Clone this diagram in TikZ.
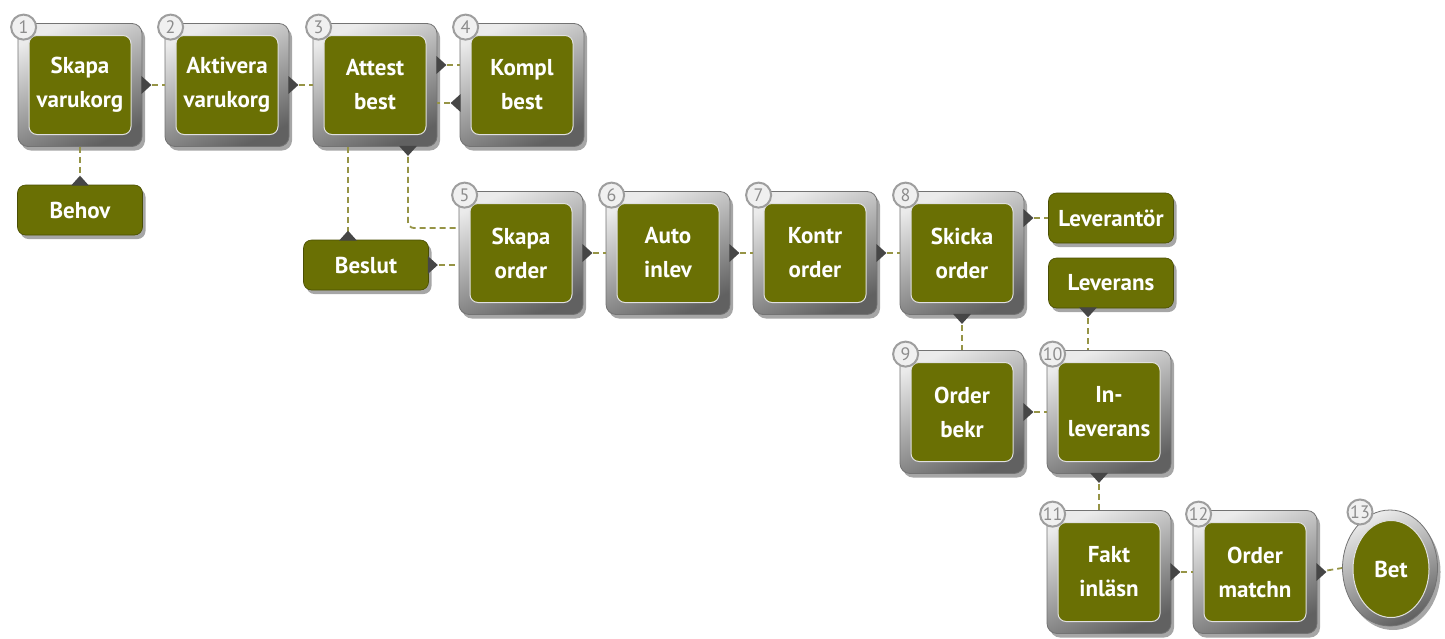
\documentclass[tikz,border=0pt]{standalone}
\usepackage{fontspec}
\setmainfont{PT Sans}
\usetikzlibrary{calc,shadows,shapes.geometric}
\definecolor{olv}{RGB}{106,112,4}
\definecolor{dashc}{RGB}{150,148,70}
\definecolor{ptrc}{RGB}{70,70,70}
\tikzset{
  frame/.style={rounded corners=10pt, minimum width=124pt, minimum height=123pt, inner sep=0pt,
    top color=black!8, bottom color=black!62, shading angle=25, draw=black!55, line width=0.8pt,
    drop shadow={shadow xshift=3pt, shadow yshift=-4pt, opacity=0.35, fill=black}},
  inbox/.style={rounded corners=8pt, minimum width=102pt, minimum height=99pt, inner sep=0pt,
    fill=olv, draw=black!12, line width=1pt, text=white, align=center,
    font=\bfseries\fontsize{23}{34}\selectfont},
  sbox/.style={rounded corners=8pt, minimum width=125pt, minimum height=50pt, inner sep=0pt,
    fill=olv, draw=olv!70!black, line width=0.6pt, text=white, align=center,
    font=\bfseries\fontsize{23}{28}\selectfont,
    drop shadow={shadow xshift=3pt, shadow yshift=-4pt, opacity=0.35, fill=black}},
  numc/.style={circle, minimum size=25pt, inner sep=0pt, fill=black!6, draw=black!38, line width=2pt,
    text=black!45, font=\fontsize{18}{18}\selectfont},
  conn/.style={draw=dashc, line width=1.8pt, dash pattern=on 6pt off 4pt},
  ptr/.style={fill=ptrc},
}
\newcommand\ptrR[1]{\fill[ptr] ($(#1)+(-1,-9)$) -- ($(#1)+(9,0)$) -- ($(#1)+(-1,9)$) -- cycle;}
\newcommand\ptrL[1]{\fill[ptr] ($(#1)+(1,-9)$) -- ($(#1)+(-9,0)$) -- ($(#1)+(1,9)$) -- cycle;}
\newcommand\ptrD[1]{\fill[ptr] ($(#1)+(-9,-1)$) -- ($(#1)+(0,9)$) -- ($(#1)+(9,-1)$) -- cycle;}
\newcommand\ptrU[1]{\fill[ptr] ($(#1)+(-9,1)$) -- ($(#1)+(0,-9)$) -- ($(#1)+(9,1)$) -- cycle;}
\newcommand\bigbox[5]{%
  \node[frame] (#1) at (#2,#3) {};
  \node[inbox] (#1g) at (#2,#3) {#4};
  \node[numc] (#1n) at ($(#1.north west)+(6,4)$) {#5};
}
\begin{document}
\begin{tikzpicture}[x=1pt,y=-1pt]
\useasboundingbox[fill=white] (0,0) rectangle (1445,638);

\bigbox{b1}{80}{85}{Skapa\\varukorg}{1}
\bigbox{b2}{227}{85}{Aktivera\\varukorg}{2}
\bigbox{b3}{375}{85}{Attest\\best}{3}
\bigbox{b4}{522}{85}{Kompl\\best}{4}
\bigbox{b5}{521}{253}{Skapa\\order}{5}
\bigbox{b6}{668}{253}{Auto\\inlev}{6}
\bigbox{b7}{815}{253}{Kontr\\order}{7}
\bigbox{b8}{962}{253}{Skicka\\order}{8}
\bigbox{b9}{962}{412}{Order\\bekr}{9}
\bigbox{b10}{1109}{412}{In-\\leverans}{10}
\bigbox{b11}{1109}{572}{Fakt\\inläsn}{11}
\bigbox{b12}{1255}{572}{Order\\matchn}{12}

\node[ellipse, minimum width=95pt, minimum height=116pt, inner sep=0pt,
  top color=black!8, bottom color=black!62, shading angle=25, draw=black!55, line width=0.8pt,
  drop shadow={shadow xshift=3pt, shadow yshift=-4pt, opacity=0.35, fill=black}] (b13) at (1390,568) {};
\node[ellipse, minimum width=76pt, minimum height=97pt, inner sep=0pt, fill=olv, draw=black!12, line width=1pt,
  text=white, font=\bfseries\fontsize{23}{28}\selectfont] (b13g) at (1391,569) {Bet};
\node[numc] (b13n) at (1360,512) {13};

\node[sbox] (beh) at (80,210) {Behov};
\node[sbox] (bes) at (366,265) {Beslut};
\node[sbox] (lvt) at (1111,218) {Leverantör};
\node[sbox] (lev) at (1111,283) {Leverans};

% connectors
\draw[conn] (b1.east) -- (b2.west);
\draw[conn] (b2.east) -- (b3.west);
\draw[conn] ($(b3.east)+(0,-20)$) -- ($(b4.west)+(0,-20)$);
\draw[conn] ($(b4.west)+(0,18)$) -- ($(b3.east)+(0,18)$);
\draw[conn] (b1.south) -- (beh.north);
\draw[conn] ($(b3.south)+(-27,0)$) -- ($(bes.north)+(-18,0)$);
\draw[conn, rounded corners=6pt] ($(b3.south)+(33,0)$) |- ($(b5.west)+(0,-25)$);
\draw[conn] (bes.east) -- (bes.east -| b5.west);
\draw[conn] (b5.east) -- (b6.west);
\draw[conn] (b6.east) -- (b7.west);
\draw[conn] (b7.east) -- (b8.west);
\draw[conn] (lvt.west -| b8.east) -- (lvt.west);
\draw[conn] (b8.south) -- (b9.north);
\draw[conn] ($(lev.south)+(-23,0)$) -- ($(b10.north)+(-21,0)$);
\draw[conn] (b9.east) -- (b10.west);
\draw[conn] ($(b10.south)+(-10,0)$) -- ($(b11.north)+(-10,0)$);
\draw[conn] (b11.east) -- (b12.west);
\draw[conn] (b12.east) -- (b13.west);

% pointers
\ptrR{b1.east}
\ptrR{b2.east}
\ptrR{$(b3.east)+(0,-20)$}
\ptrL{$(b4.west)+(0,18)$}
\ptrU{beh.north}
\ptrU{$(bes.north)+(-18,0)$}
\ptrD{$(b3.south)+(33,0)$}
\ptrR{bes.east}
\ptrR{b5.east}
\ptrR{b6.east}
\ptrR{b7.east}
\ptrR{lvt.west -| b8.east}
\ptrD{b8.south}
\ptrD{$(lev.south)+(-23,0)$}
\ptrR{b9.east}
\ptrD{$(b10.south)+(-10,0)$}
\ptrR{b11.east}
\ptrR{b12.east}
\end{tikzpicture}
\end{document}
